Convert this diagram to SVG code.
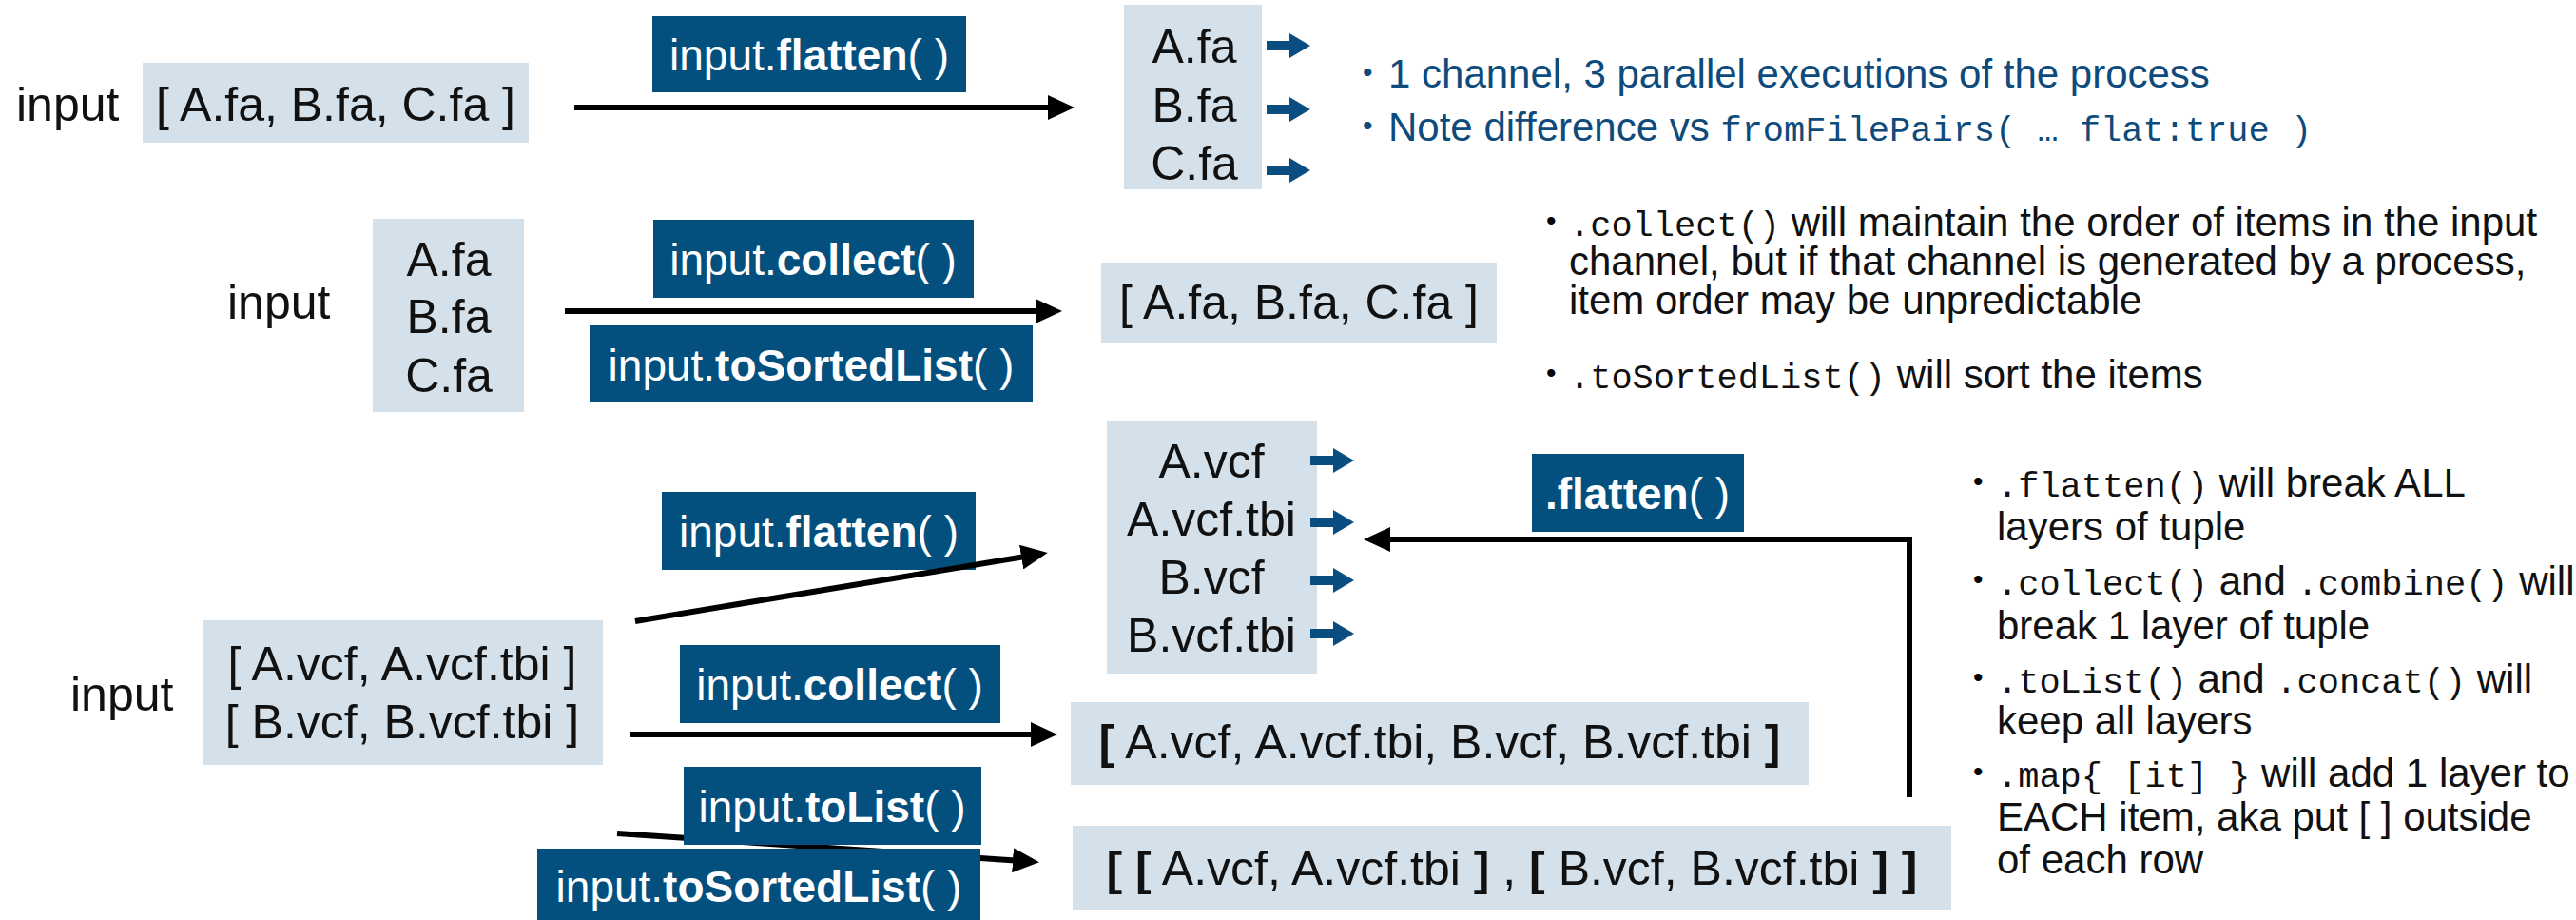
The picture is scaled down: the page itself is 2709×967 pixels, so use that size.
<svg xmlns="http://www.w3.org/2000/svg" width="2709" height="967" viewBox="0 0 2709 967">
<defs>
<style>
.box{fill:#d5e1ea}
.lbl{fill:#03507f}
.t{font-family:"Liberation Sans",Arial,sans-serif;fill:#111;font-size:50px}
.lt{font-family:"Liberation Sans",Arial,sans-serif;fill:#fff;font-size:46px;text-anchor:middle}
.b{font-weight:bold}
.m{font-family:"Liberation Mono","DejaVu Sans Mono",monospace;font-size:37px}
.note{font-family:"Liberation Sans",Arial,sans-serif;font-size:42px;fill:#111}
.blue{fill:#0e4a7b}
.dot{font-family:"Liberation Sans",Arial,sans-serif;font-size:30px}
.mid{text-anchor:middle}
.edge{stroke:#000;stroke-width:6;fill:none;marker-end:url(#ah)}
.sa{fill:#0a4d80}
</style>
<marker id="ah" markerUnits="userSpaceOnUse" markerWidth="28" markerHeight="26" viewBox="0 0 28 26" refX="10" refY="13" orient="auto">
<path d="M0,0 L28,13 L0,26 Z" fill="#000"/>
</marker>
<path id="sarrow" d="M0,-5 H24 V-13 L46,0 L24,13 V5 H0 Z"/>
</defs>
<rect width="2709" height="967" fill="#fff"/>

<g id="row1-input"><text class="t" x="17" y="127">input</text></g>
<g id="in1">
<rect class="box" x="150" y="66" width="406" height="84"/>
<text class="t mid" x="353" y="127">[ A.fa, B.fa, C.fa ]</text>
</g>
<g id="out1">
<rect class="box" x="1182" y="5" width="145" height="194"/>
<text class="t mid" x="1256" y="66" font-size="48">A.fa</text>
<text class="t mid" x="1256" y="128" font-size="48">B.fa</text>
<text class="t mid" x="1256" y="189" font-size="48">C.fa</text>
<use href="#sarrow" class="sa" x="1332" y="48"/>
<use href="#sarrow" class="sa" x="1332" y="115"/>
<use href="#sarrow" class="sa" x="1332" y="179"/>
</g>
<g id="note1" class="blue">
<text class="dot blue" x="1433" y="86">•</text>
<text class="note blue" x="1460" y="92" font-size="41">1 channel, 3 parallel executions of the process</text>
<text class="dot blue" x="1433" y="142">•</text>
<text class="note blue" x="1460" y="148" font-size="41">Note difference vs <tspan class="m" font-size="32">fromFilePairs( … flat:true )</tspan></text>
</g>

<g id="row2-input"><text class="t" x="239" y="335">input</text></g>
<g id="in2">
<rect class="box" x="392" y="230" width="159" height="203"/>
<text class="t mid" x="472" y="290" font-size="48">A.fa</text>
<text class="t mid" x="472" y="350" font-size="48">B.fa</text>
<text class="t mid" x="472" y="412" font-size="48">C.fa</text>
</g>
<g id="out2">
<rect class="box" x="1158" y="276" width="416" height="84"/>
<text class="t mid" x="1366" y="335">[ A.fa, B.fa, C.fa ]</text>
</g>
<g id="note2">
<text class="dot" x="1626" y="242">•</text>
<text class="note" x="1650" y="248"><tspan class="m">.collect()</tspan> will maintain the order of items in the input</text>
<text class="note" x="1650" y="289">channel, but if that channel is generated by a process,</text>
<text class="note" x="1650" y="330">item order may be unpredictable</text>
<text class="dot" x="1626" y="402">•</text>
<text class="note" x="1650" y="408"><tspan class="m">.toSortedList()</tspan> will sort the items</text>
</g>

<g id="row3-input"><text class="t" x="74" y="747">input</text></g>
<g id="in3">
<rect class="box" x="213" y="652" width="421" height="152"/>
<text class="t mid" x="423" y="715">[ A.vcf, A.vcf.tbi ]</text>
<text class="t mid" x="423" y="776">[ B.vcf, B.vcf.tbi ]</text>
</g>
<g id="out3a">
<rect class="box" x="1164" y="443" width="221" height="265"/>
<text class="t mid" x="1274" y="502">A.vcf</text>
<text class="t mid" x="1274" y="563">A.vcf.tbi</text>
<text class="t mid" x="1274" y="624">B.vcf</text>
<text class="t mid" x="1274" y="685">B.vcf.tbi</text>
<use href="#sarrow" class="sa" x="1378" y="484"/>
<use href="#sarrow" class="sa" x="1378" y="549"/>
<use href="#sarrow" class="sa" x="1378" y="610"/>
<use href="#sarrow" class="sa" x="1378" y="666"/>
</g>
<g id="out3b">
<rect class="box" x="1126" y="738" width="776" height="87"/>
<text class="t mid" x="1514" y="797" font-size="51"><tspan class="b">[</tspan> A.vcf, A.vcf.tbi, B.vcf, B.vcf.tbi <tspan class="b">]</tspan></text>
</g>
<g id="out3c">
<rect class="box" x="1128" y="868" width="924" height="88"/>
<text class="t mid" x="1590" y="930" font-size="51"><tspan class="b">[ [</tspan> A.vcf, A.vcf.tbi <tspan class="b">]</tspan> , <tspan class="b">[</tspan> B.vcf, B.vcf.tbi <tspan class="b">] ]</tspan></text>
</g>
<g id="note3">
<text class="dot" x="2075" y="516">•</text>
<text class="note" x="2100" y="522" font-size="41"><tspan class="m">.flatten()</tspan> will break ALL</text>
<text class="note" x="2100" y="568" font-size="41">layers of tuple</text>
<text class="dot" x="2075" y="619">•</text>
<text class="note" x="2100" y="625" font-size="41"><tspan class="m">.collect()</tspan> and <tspan class="m">.combine()</tspan>  will</text>
<text class="note" x="2100" y="672" font-size="41">break 1 layer of tuple</text>
<text class="dot" x="2075" y="722">•</text>
<text class="note" x="2100" y="728" font-size="41"><tspan class="m">.toList()</tspan> and <tspan class="m">.concat()</tspan> will</text>
<text class="note" x="2100" y="772" font-size="41">keep all layers</text>
<text class="dot" x="2075" y="821">•</text>
<text class="note" x="2100" y="827" font-size="41"><tspan class="m">.map{ [it] }</tspan> will add 1 layer to</text>
<text class="note" x="2100" y="873" font-size="41">EACH item, aka put [ ] outside</text>
<text class="note" x="2100" y="918" font-size="41">of each row</text>
</g>

<g id="lbl-flatten1"><rect class="lbl" x="686" y="17" width="330" height="80"/><text class="lt" x="851" y="74">input.<tspan class="b">flatten</tspan>( )</text></g>
<g id="lbl-collect1"><rect class="lbl" x="687" y="231" width="337" height="82"/><text class="lt" x="855" y="289">input.<tspan class="b">collect</tspan>( )</text></g>
<g id="lbl-sorted1"><rect class="lbl" x="620" y="342" width="466" height="81"/><text class="lt" x="853" y="400">input.<tspan class="b">toSortedList</tspan>( )</text></g>
<g id="lbl-flatten2"><rect class="lbl" x="696" y="517" width="330" height="82"/><text class="lt" x="861" y="575">input.<tspan class="b">flatten</tspan>( )</text></g>
<g id="lbl-flatten3"><rect class="lbl" x="1611" y="477" width="223" height="82"/><text class="lt" x="1722" y="535"><tspan class="b">.flatten</tspan>( )</text></g>
<g id="lbl-collect2"><rect class="lbl" x="715" y="678" width="337" height="82"/><text class="lt" x="883" y="736">input.<tspan class="b">collect</tspan>( )</text></g>

<g id="connectors">
<line class="edge" x1="604" y1="113" x2="1112" y2="113"/>
<line class="edge" x1="594" y1="327" x2="1099" y2="327"/>
<line class="edge" x1="668" y1="653" x2="1084" y2="584"/>
<line class="edge" x1="663" y1="772" x2="1094" y2="772"/>
<line class="edge" x1="649" y1="876" x2="1075" y2="905"/>
<path class="edge" d="M2008,838 V567 H1452"/>
</g>

<g id="lbl-tolist"><rect class="lbl" x="719" y="806" width="313" height="82"/><text class="lt" x="875" y="864">input.<tspan class="b">toList</tspan>( )</text></g>
<g id="lbl-sorted2"><rect class="lbl" x="565" y="892" width="466" height="80"/><text class="lt" x="798" y="948">input.<tspan class="b">toSortedList</tspan>( )</text></g>
</svg>
